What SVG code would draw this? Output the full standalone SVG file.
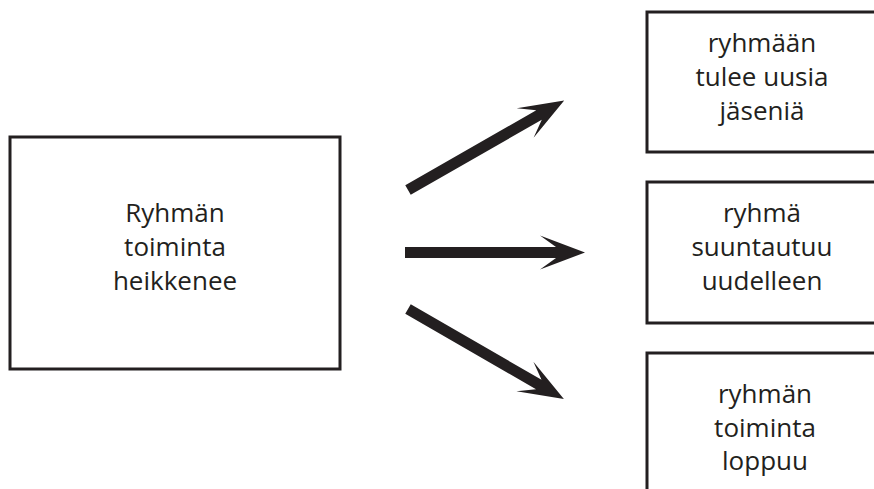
<svg xmlns="http://www.w3.org/2000/svg" xmlns:xlink="http://www.w3.org/1999/xlink" width="874" height="489" viewBox="0 0 874 489">
<style>
.box{fill:#fff;stroke:#231f20;stroke-width:3}
.t{font-family:"Open Sans","Noto Sans","Liberation Sans",sans-serif;font-size:26px;fill:#231f20;text-anchor:middle}
.arr{fill:#231f20}
</style>
<defs>
<path id="arrow" class="arr" d="M0,-5.5 L151,-5.5 L135,-17 L180,0 L135,17 L151,5.5 L0,5.5 Z"/>
</defs>
<rect width="874" height="489" fill="#fff"/>
<g id="node-main">
<rect class="box" x="10" y="137" width="330" height="232"/>
<text class="t" x="175" y="222">Ryhmän</text>
<text class="t" x="175" y="256">toiminta</text>
<text class="t" x="175" y="290">heikkenee</text>
</g>
<g id="node-new-members">
<rect class="box" x="647" y="12" width="240" height="140"/>
<text class="t" x="762" y="52">ryhmään</text>
<text class="t" x="762" y="86">tulee uusia</text>
<text class="t" x="762" y="120">jäseniä</text>
</g>
<g id="node-reorient">
<rect class="box" x="647" y="182" width="240" height="141"/>
<text class="t" x="762" y="222">ryhmä</text>
<text class="t" x="762" y="256">suuntautuu</text>
<text class="t" x="762" y="290">uudelleen</text>
</g>
<g id="node-end">
<rect class="box" x="647" y="353" width="240" height="150"/>
<text class="t" x="765" y="403">ryhmän</text>
<text class="t" x="765" y="437">toiminta</text>
<text class="t" x="765" y="470">loppuu</text>
</g>
<g id="connectors">
<use xlink:href="#arrow" transform="translate(408,190) rotate(-29.8)"/>
<use xlink:href="#arrow" transform="translate(405,252.5)"/>
<use xlink:href="#arrow" transform="translate(408,309) rotate(30)"/>
</g>
</svg>
